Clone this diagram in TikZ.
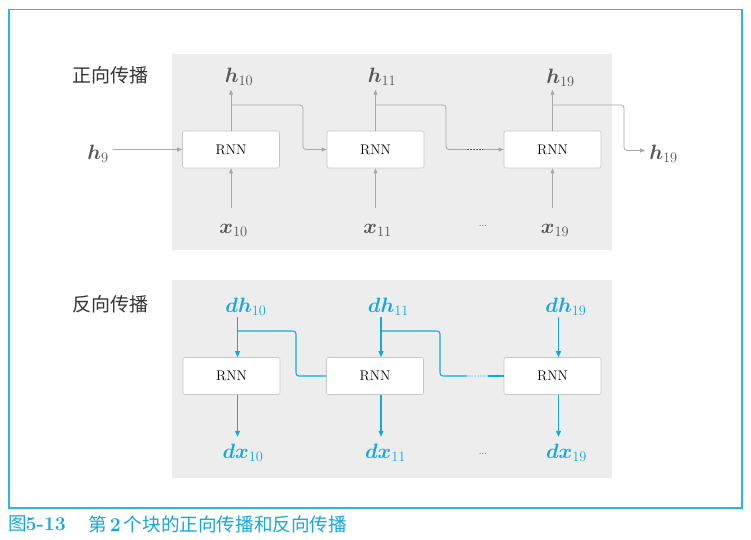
\documentclass[tikz,border=0pt]{standalone}
\usepackage{fontspec}
\usepackage{amsmath,bm}
\newfontfamily\cjk{Noto Sans CJK SC}
\usetikzlibrary{arrows.meta,calc}
\definecolor{frameblue}{HTML}{29B6EA}
\definecolor{tblue}{HTML}{12A8E0}
\definecolor{panel}{HTML}{EDEDED}
\definecolor{lgray}{HTML}{A8A8A8}
\definecolor{bgray}{HTML}{C8C8C8}
\definecolor{tgray}{HTML}{555555}
\definecolor{cjkgray}{HTML}{333333}
\begin{document}
\begin{tikzpicture}[x=1pt,y=-1pt,
  rnnbox/.style={draw=bgray, fill=white, rounded corners=2pt, minimum width=97pt,
    minimum height=37pt, inner sep=0pt, line width=0.6pt,
    font=\fontsize{14}{16}\selectfont},
  glabel/.style={text=tgray, inner sep=0pt, anchor=base, font=\fontsize{20}{24}\selectfont},
  blabel/.style={text=tblue, inner sep=0pt, anchor=base, font=\fontsize{20}{24}\selectfont},
  dots/.style={text=tgray, inner sep=0pt, anchor=base, font=\fontsize{10}{12}\selectfont},
  cjklabel/.style={text=cjkgray, inner sep=0pt, anchor=west, font=\cjk\fontsize{19}{22}\selectfont},
  gline/.style={draw=lgray, line width=0.8pt},
  garrow/.style={gline, -{Triangle[length=5pt,width=4pt]}},
  gdash/.style={draw=tgray, line width=0.8pt, dash pattern=on 2pt off 1pt},
  bline/.style={draw=tblue, line width=1.1pt},
  barrow/.style={bline, -{Triangle[length=6pt,width=5pt]}},
  bdash/.style={draw=tblue!35, line width=1.1pt, dash pattern=on 2pt off 1pt},
  panelbox/.style={fill=panel, draw=none},
  framebox/.style={draw=frameblue, line width=1.2pt},
  capcjk/.style={text=tblue, inner sep=0pt, anchor=west, font=\cjk\fontsize{18.6}{21}\selectfont},
  capnumstyle/.style={text=tblue, inner sep=0pt, anchor=base west, font=\fontsize{19.5}{22}\selectfont\bfseries}
]
\useasboundingbox (0,0) rectangle (751,539);

% frame and panels
\draw[framebox] (9,9.5) rectangle (742,508);
\fill[panelbox] (172,54) rectangle (612,250);
\fill[panelbox] (172,280) rectangle (612,478);

% section labels
\node[cjklabel] (fwd) at (72,75) {正向传播};
\node[cjklabel] (bwd) at (72,304) {反向传播};

% forward boxes
\node[rnnbox] (f1) at (231,149.5) {RNN};
\node[rnnbox] (f2) at (375.5,149.5) {RNN};
\node[rnnbox] (f3) at (552.5,149.5) {RNN};

% forward labels
\node[glabel] (h10) at (239,82) {$\bm{h}_{10}$};
\node[glabel] (h11) at (382,82) {$\bm{h}_{11}$};
\node[glabel] (h19) at (560.5,83) {$\bm{h}_{19}$};
\node[glabel] (h19r) at (663.5,159) {$\bm{h}_{19}$};
\node[glabel] (h9) at (98,159) {$\bm{h}_{9}$};
\node[glabel] (x10) at (233.5,233) {$\bm{x}_{10}$};
\node[glabel] (x11) at (377.5,233) {$\bm{x}_{11}$};
\node[glabel] (x19) at (555,233) {$\bm{x}_{19}$};
\node[dots] (fdots) at (483,226) {...};

% forward arrows
\draw[garrow] (f1.north) -- ($(f1.north)+(0,-41)$);
\draw[garrow] (f2.north) -- ($(f2.north)+(0,-41)$);
\draw[garrow] (f3.north) -- ($(f3.north)+(0,-41)$);
\draw[garrow] ($(f1.south)+(0,40)$) -- (f1.south);
\draw[garrow] ($(f2.south)+(0,40)$) -- (f2.south);
\draw[garrow] ($(f3.south)+(0,40)$) -- (f3.south);
\draw[garrow] ($(h9.east|-f1.west)+(4,0)$) -- (f1.west);

\coordinate (c1a) at (303,105);
\coordinate (c2a) at (446,105);
\coordinate (c2b) at (467,149.5);
\coordinate (c2c) at (483,149.5);
\coordinate (c3a) at (624,105);
\coordinate (c3b) at (645,150.5);
\draw[garrow, rounded corners=3pt] (f1.north|-c1a) -- (c1a) -- (c1a|-f2.west) -- (f2.west);
\draw[gline, rounded corners=3pt] (f2.north|-c2a) -- (c2a) -- (c2a|-c2b) -- (c2b);
\draw[gdash] (c2b) -- (c2c);
\draw[garrow] (c2c) -- (f3.west);
\draw[garrow, rounded corners=3pt] (f3.north|-c3a) -- (c3a) -- (c3a|-c3b) -- (c3b);

% backward boxes
\node[rnnbox] (b1) at (231.5,376) {RNN};
\node[rnnbox] (b2) at (375,376) {RNN};
\node[rnnbox] (b3) at (552.5,376) {RNN};

% backward labels
\node[blabel] (dh10) at (246,312) {$\bm{dh}_{10}$};
\node[blabel] (dh11) at (388.5,312) {$\bm{dh}_{11}$};
\node[blabel] (dh19) at (566,312) {$\bm{dh}_{19}$};
\node[blabel] (dx10) at (243,458) {$\bm{dx}_{10}$};
\node[blabel] (dx11) at (385.5,458) {$\bm{dx}_{11}$};
\node[blabel] (dx19) at (566.5,458) {$\bm{dx}_{19}$};
\node[dots] (bdots) at (483,454) {...};

% backward arrows
\draw[barrow] ($(b1.north)+(6,-40)$) -- ($(b1.north)+(6,0)$);
\draw[barrow] ($(b2.north)+(6,-40)$) -- ($(b2.north)+(6,0)$);
\draw[barrow] ($(b3.north)+(6,-40)$) -- ($(b3.north)+(6,0)$);
\draw[barrow] ($(b1.south)+(6,0)$) -- ($(b1.south)+(6,42)$);
\draw[barrow] ($(b2.south)+(6,0)$) -- ($(b2.south)+(6,42)$);
\draw[barrow] ($(b3.south)+(6,0)$) -- ($(b3.south)+(6,42)$);

\coordinate (d1a) at (296,331);
\coordinate (d1b) at (237.5,331);
\coordinate (d2a) at (440,331);
\coordinate (d2b) at (381,331);
\coordinate (d2c) at (467,376);
\coordinate (d2d) at (488,376);
\draw[bline, rounded corners=3pt] (b2.west) -- (d1a|-b2.west) -- (d1a) -- (d1b);
\draw[bline] (b3.west) -- (d2d);
\draw[bdash] (d2d) -- (d2c);
\draw[bline, rounded corners=3pt] (d2c) -- (d2a|-d2c) -- (d2a) -- (d2b);

% caption
\node[capcjk] (capfig) at (8,524) {图};
\node[capnumstyle] (capnum) at (25.5,530.5) {5-13};
\node[capcjk] (captext) at (88,524) {第\,{\rmfamily\bfseries\fontsize{19.5}{22}\selectfont 2}\,个块的正向传播和反向传播};
\end{tikzpicture}
\end{document}
